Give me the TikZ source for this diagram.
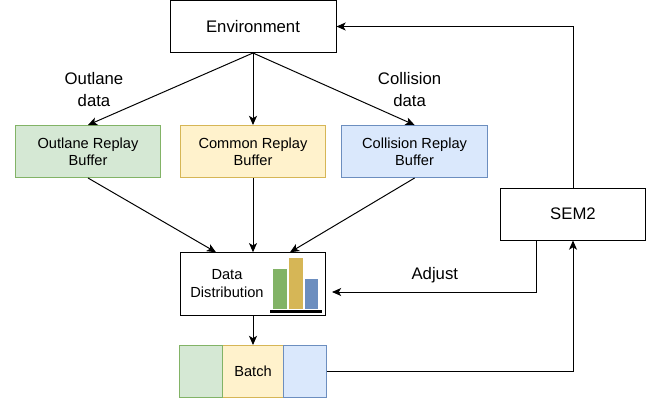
\documentclass[tikz,border=0pt]{standalone}
\usepackage{fontspec}
\setmainfont{Liberation Sans}
\usepackage{xcolor}
\usetikzlibrary{positioning,arrows.meta}
\definecolor{greenfill}{HTML}{D5E8D4}
\definecolor{greenline}{HTML}{82B366}
\definecolor{yellowfill}{HTML}{FFF2CC}
\definecolor{yellowline}{HTML}{D6B656}
\definecolor{bluefill}{HTML}{DAE8FC}
\definecolor{blueline}{HTML}{6C8EBF}
\tikzset{
  plainbox/.style={draw,line width=.7pt,minimum width=3.64cm,minimum height=1.3cm,inner sep=0pt,align=center,font=\fontsize{11.9}{15}\selectfont},
  bufferbox/.style={plainbox,font=\fontsize{10.4}{12.4}\selectfont},
  bar/.style={fill=#1,inner sep=0pt,minimum width=.34cm,anchor=south},
  edgetext/.style={align=center,font=\fontsize{11.9}{15}\selectfont},
}
\begin{document}
\begin{tikzpicture}[on grid,>={Stealth[length=.23cm,width=.2cm,inset=.06cm]},line width=.7pt]
    \useasboundingbox (0,0) rectangle (16.625,-10.125);
    \node[plainbox,minimum width=4.15cm] (Env) at (6.325,-.6625) {Environment};
    \node[bufferbox,fill=yellowfill,draw=yellowline,below=3.125cm of Env] (Common) {Common Replay\\Buffer};
    \node[bufferbox,fill=greenfill,draw=greenline,left=4.125cm of Common] (Outlane) {Outlane Replay\\Buffer};
    \node[bufferbox,fill=bluefill,draw=blueline,right=4.04cm of Common] (Collision) {Collision Replay\\Buffer};
    \node[plainbox,minimum height=1.5625cm,below=3.3125cm of Common] (Dist) {};
    \node[left=.65cm of Dist,font=\fontsize{10.4}{12.8}\selectfont,align=center] (DistText) {Data\\Distribution};
    \node[fill=black,inner sep=0pt,minimum width=1.3cm,minimum height=.075cm,below right=.675cm and 1.075cm of Dist] (Base) {};
    \node[bar=greenline,minimum height=1cm] (BarGreen) at ([xshift=-.4cm]Base.north) {};
    \node[bar=yellowline,minimum height=1.26cm] (BarYellow) at (Base.north) {};
    \node[bar=blueline,minimum height=.74cm] (BarBlue) at ([xshift=.39cm]Base.north) {};
    \node[bufferbox,fill=yellowfill,draw=yellowline,minimum width=1.54cm,below=2.1875cm of Dist] (Batch) {Batch};
    \node[bufferbox,fill=greenfill,draw=greenline,minimum width=1.0625cm,left=1.3cm of Batch] (BatchLeft) {};
    \node[bufferbox,fill=bluefill,draw=blueline,minimum width=1.0625cm,right=1.3cm of Batch] (BatchRight) {};
    \node[plainbox] (SEM) at (14.325,-5.35) {SEM2};
    \node[edgetext] (OutlaneData) at (2.35,-2.2375) {Outlane\\data};
    \node[edgetext] (CollisionData) at (10.24,-2.2375) {Collision\\data};
    \node[edgetext] (Adjust) at (10.87,-6.88) {Adjust};
    \coordinate (DistLeft) at ([xshift=-.925cm]Dist.north);
    \coordinate (DistRight) at ([xshift=.925cm]Dist.north);
    \coordinate (SEMOut) at ([xshift=-.925cm]SEM.south);
    \coordinate (AdjustEnd) at (8.3,-7.3);
    \draw[->] (Env.south) -- (Outlane.north);
    \draw[->] (Env.south) -- (Common.north);
    \draw[->] (Env.south) -- (Collision.north);
    \draw[->] (Outlane.south) -- (DistLeft);
    \draw[->] (Common.south) -- (Dist.north);
    \draw[->] (Collision.south) -- (DistRight);
    \draw[->] (Dist.south) -- (Batch.north);
    \draw[->] (BatchRight.east) -| (SEM.south);
    \draw[->] (SEM.north) |- (Env.east);
    \draw[->] (SEMOut) |- (AdjustEnd);
  \end{tikzpicture}
\end{document}
